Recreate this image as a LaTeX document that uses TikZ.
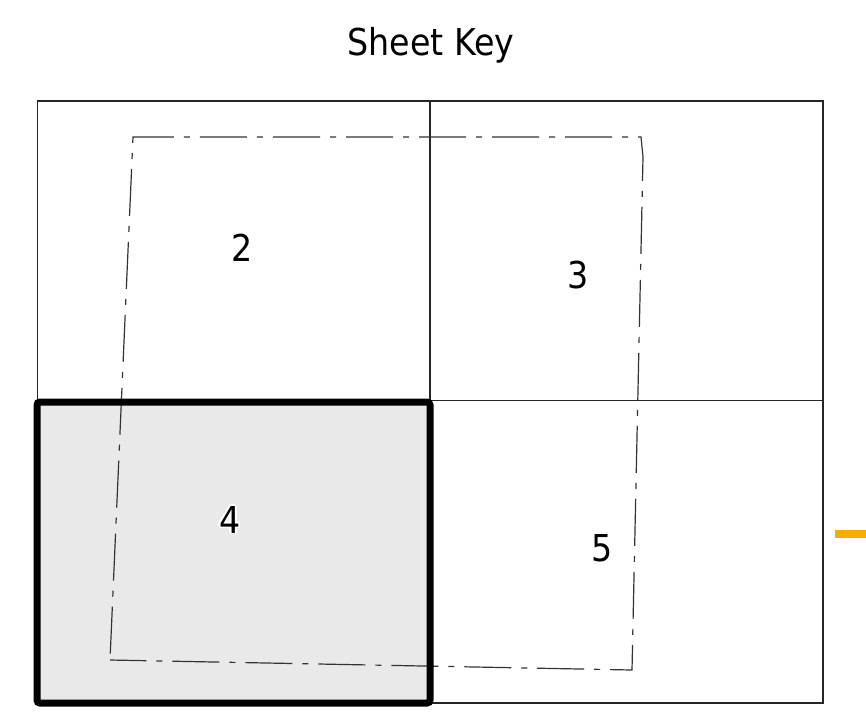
\documentclass[tikz,border=0pt]{standalone}
\usepackage{fontspec}
\setmainfont{DejaVu Sans Condensed}
\usepackage[copies]{contour}
\contourlength{1.6pt}
\contournumber{24}
\definecolor{cellgray}{RGB}{233,233,233}
\definecolor{markorange}{RGB}{255,170,0}
\begin{document}
\begin{tikzpicture}[x=1pt,y=-1pt,
  gridline/.style={draw=black!85,line width=1.1pt},
  outline/.style={draw=black!80,line width=1.2pt,
    dash pattern=on 47pt off 10pt on 6pt off 10pt,dash phase=66.5pt,line join=miter},
  current/.style={draw=black,line width=7pt,rounded corners=3pt},
  sheetnum/.style={font=\fontsize{37}{37}\selectfont,anchor=base,inner sep=0pt},
  titletext/.style={font=\fontsize{37}{37}\selectfont,anchor=base,inner sep=0pt}]
\useasboundingbox (0,0) rectangle (866,716);
\fill[white] (0,0) rectangle (866,716);
% shaded current sheet
\fill[cellgray] (37,402) rectangle (430,703);
% sheet grid
\draw[gridline] (37.5,101) rectangle (823,703);
\draw[gridline] (430,101) -- (430,703);
\draw[gridline] (37.5,400.5) -- (823,400.5);
% dash-dot outline
\draw[outline] (110,660) -- (133,137) -- (641,137) -- (643,157) -- (632,670) -- cycle;
% thick border of current sheet
\draw[current] (37,402) rectangle (430,703);
% labels
\node[titletext] (title) at (431,55) {Sheet Key};
\node[sheetnum] (s2) at (242,261) {\contour{white}{2}};
\node[sheetnum] (s3) at (578,288) {\contour{white}{3}};
\node[sheetnum] (s4) at (230,533) {\contour{white}{4}};
\node[sheetnum] (s5) at (602,561) {\contour{white}{5}};
% orange mark
\fill[markorange] (835,530) rectangle (866,538);
\end{tikzpicture}
\end{document}
